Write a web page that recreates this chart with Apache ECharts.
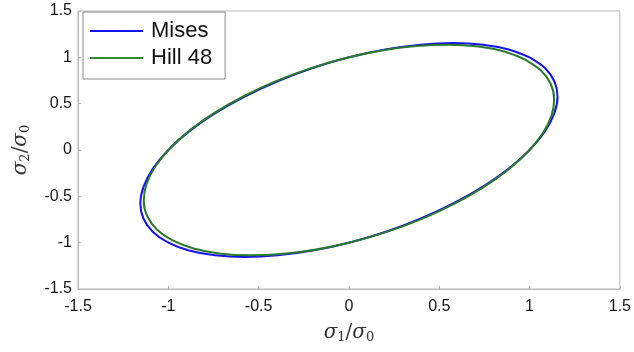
<!DOCTYPE html>
<html>
<head>
<meta charset="utf-8">
<script src="https://cdn.jsdelivr.net/npm/echarts@6/dist/echarts.min.js"></script>
<style>
  html, body { margin: 0; padding: 0; background: #fff; }
  #chart { width: 634px; height: 352px; }
</style>
</head>
<body>
<div id="chart"></div>
<script>
// Normalised principal stresses on the yield locus, sigma1/sigma0 and sigma2/sigma0
const misesS1 = [1.000, 1.085, 1.137, 1.155, 1.137, 1.085, 1.000, 0.885, 0.742, 0.577, 0.395, 0.201,
                 0.000, -0.201, -0.395, -0.577, -0.742, -0.885, -1.000, -1.085, -1.137, -1.155, -1.137, -1.085,
                 -1.000, -0.885, -0.742, -0.577, -0.395, -0.201, 0.000, 0.201, 0.395, 0.577, 0.742, 0.885, 1.000];
const misesS2 = [1.000, 0.885, 0.742, 0.577, 0.395, 0.201, 0.000, -0.201, -0.395, -0.577, -0.742, -0.885,
                 -1.000, -1.085, -1.137, -1.155, -1.137, -1.085, -1.000, -0.885, -0.742, -0.577, -0.395, -0.201,
                 0.000, 0.201, 0.395, 0.577, 0.742, 0.885, 1.000, 1.085, 1.137, 1.155, 1.137, 1.085, 1.000];

const hillS1 = [0.976, 1.062, 1.116, 1.136, 1.122, 1.073, 0.992, 0.881, 0.743, 0.582, 0.404, 0.213,
                0.016, -0.181, -0.374, -0.554, -0.718, -0.860, -0.976, -1.062, -1.116, -1.136, -1.122, -1.073,
                -0.992, -0.881, -0.743, -0.582, -0.404, -0.213, -0.016, 0.181, 0.374, 0.554, 0.718, 0.860, 0.976];
const hillS2 = [0.976, 0.860, 0.718, 0.554, 0.374, 0.181, -0.016, -0.213, -0.404, -0.582, -0.743, -0.881,
                -0.992, -1.073, -1.122, -1.136, -1.116, -1.062, -0.976, -0.860, -0.718, -0.554, -0.374, -0.181,
                0.016, 0.213, 0.404, 0.582, 0.743, 0.881, 0.992, 1.073, 1.122, 1.136, 1.116, 1.062, 0.976];

const axisTicks = [-1.5, -1, -0.5, 0, 0.5, 1, 1.5];
const seriesNames = ['Mises', 'Hill 48'];

const pairs = (xs, ys) => xs.map((x, i) => [x, ys[i]]);
const tickText = v => {
  const hit = axisTicks.find(t => Math.abs(t - v) < 1e-9);
  return hit === undefined ? '' : String(hit);
};

const chart = echarts.init(document.getElementById('chart'), null, { renderer: 'canvas' });

const mathRich = {
  s: { fontFamily: 'DejaVu Serif', fontStyle: 'italic', fontSize: 20, color: '#333' },
  sub: { fontFamily: 'DejaVu Serif', fontSize: 13, color: '#333', padding: [9, 0, 0, 0] },
  sl: { fontFamily: 'DejaVu Serif', fontSize: 20, color: '#333' }
};

const axisGrey = '#b8b8b8';

chart.setOption({
  animation: false,
  backgroundColor: '#fff',
  grid: {
    left: 78, right: 12, top: 11, bottom: 63,
    show: true, borderColor: axisGrey, borderWidth: 1, backgroundColor: '#fff'
  },
  legend: {
    data: seriesNames,
    orient: 'vertical',
    left: 83, top: 12,
    padding: [8, 13, 10, 7],
    itemGap: 5,
    itemWidth: 53, itemHeight: 2,
    icon: 'rect',
    backgroundColor: '#fff',
    borderColor: '#8a8a8a', borderWidth: 1, borderRadius: 0,
    textStyle: { fontFamily: 'Liberation Sans', fontSize: 22, color: '#111', padding: [0, 0, 0, 3] }
  },
  xAxis: {
    type: 'value', min: -1.5, max: 1.5, interval: 0.5,
    axisLine: { show: true, onZero: false, lineStyle: { color: axisGrey } },
    axisTick: { show: true, inside: true, length: 3, lineStyle: { color: axisGrey } },
    splitLine: { show: false },
    axisLabel: { formatter: tickText, fontFamily: 'Liberation Sans', fontSize: 16, color: '#151515', margin: 10 },
    name: '{s|σ}{sub|1}{sl|/}{s|σ}{sub|0}',
    nameLocation: 'middle', nameGap: 33,
    nameTextStyle: { rich: mathRich }
  },
  yAxis: {
    type: 'value', min: -1.5, max: 1.5, interval: 0.5,
    axisLine: { show: true, onZero: false, lineStyle: { color: axisGrey } },
    axisTick: { show: true, inside: true, length: 3, lineStyle: { color: axisGrey } },
    splitLine: { show: false },
    axisLabel: { formatter: tickText, fontFamily: 'Liberation Sans', fontSize: 16, color: '#151515', margin: 6 },
    name: '{s|σ}{sub|2}{sl|/}{s|σ}{sub|0}',
    nameLocation: 'middle', nameGap: 46, nameRotate: 90,
    nameTextStyle: { rich: mathRich }
  },
  series: [
    {
      name: seriesNames[0], type: 'line', data: pairs(misesS1, misesS2),
      smooth: 0.3, showSymbol: false, symbol: 'none',
      lineStyle: { color: '#1414f0', width: 2 }, itemStyle: { color: '#1414f0' }, z: 2
    },
    {
      name: seriesNames[1], type: 'line', data: pairs(hillS1, hillS2),
      smooth: 0.3, showSymbol: false, symbol: 'none',
      lineStyle: { color: '#2a7a2a', width: 2 }, itemStyle: { color: '#2a8f2a' }, z: 3
    }
  ]
});
</script>
</body>
</html>
